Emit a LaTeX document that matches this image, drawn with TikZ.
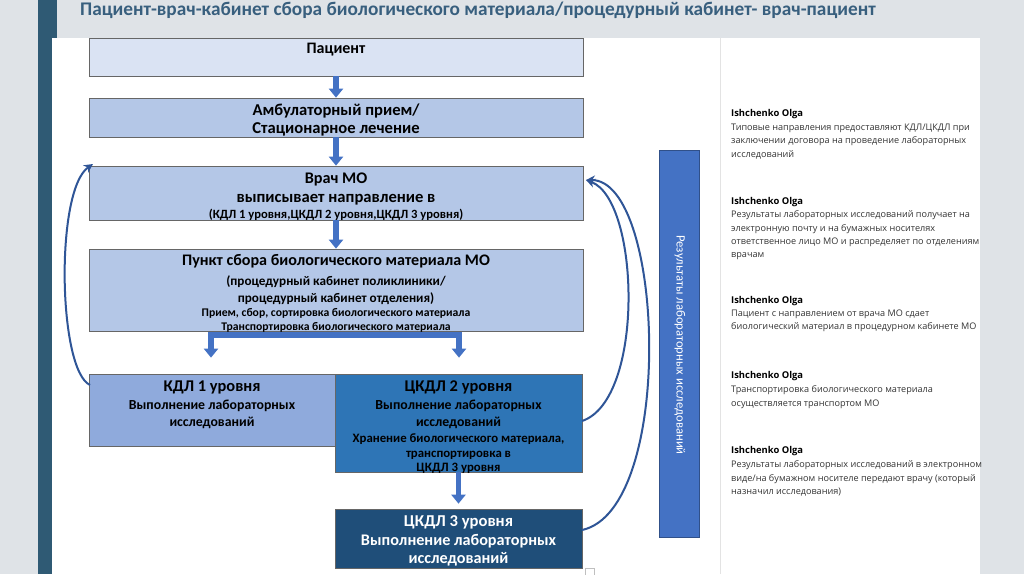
\documentclass[tikz,border=0pt]{standalone}
\usepackage{fontspec}
\setmainfont{Carlito}
\newfontfamily\cmtfont{Open Sans}
\usetikzlibrary{arrows.meta}
\definecolor{bggray}{HTML}{DFE3E7}
\definecolor{stripe}{HTML}{2F5A74}
\definecolor{titlec}{HTML}{385F7E}
\definecolor{cpat}{HTML}{DAE3F3}
\definecolor{cmid}{HTML}{B4C7E7}
\definecolor{ckdl}{HTML}{8FAADC}
\definecolor{cck2}{HTML}{2E75B6}
\definecolor{cck3}{HTML}{1F4E79}
\definecolor{cres}{HTML}{4472C4}
\definecolor{curvec}{HTML}{2F5597}
\definecolor{divider}{HTML}{E3E3E3}
\tikzset{
  box/.style={draw=gray!80!black, line width=0.7pt, inner sep=0pt, rectangle},
  ln/.style={inner sep=0pt, anchor=mid, yshift=-3pt, font=\bfseries\fontsize{#1}{#1}\selectfont},
  blockarrow/.style={draw=cres, line width=5.5pt, -{Triangle[width=14pt,length=9pt]}},
  barline/.style={draw=cres, line width=5.5pt},
  curvearrow/.style={draw=curvec, line width=2pt, -{Stealth[length=9pt,width=9pt]}},
  cname/.style={inner sep=0pt, anchor=north west, font=\cmtfont\bfseries\fontsize{9.4}{11}\selectfont},
  cbody/.style={inner sep=0pt, anchor=north west, align=left, font=\cmtfont\fontsize{9.1}{13.4}\selectfont, text=black!80}
}
\begin{document}
\begin{tikzpicture}[x=1pt,y=-1pt]
\useasboundingbox (0,0) rectangle (1024,574);
\fill[bggray] (0,0) rectangle (1024,574);
\fill[stripe] (38,0) rectangle (57,38);
\fill[stripe] (38,38) rectangle (52,574);
\fill[white] (52,38) rectangle (980,574);
\draw[divider, line width=1pt] (720,38) -- (720,574);
\draw[gray!50, line width=0.6pt] (585,568) rectangle (594,576);

% title
\node[anchor=base west, inner sep=0pt, text=titlec, font=\bfseries\fontsize{19.3}{22}\selectfont] (title) at (80,15) {Пациент-врач-кабинет сбора биологического материала/процедурный кабинет- врач-пациент};

% boxes
\node[box, fill=cpat, minimum width=494pt, minimum height=38pt] (pat) at (336,57) {};
\node[ln=16] (patt) at (336,48) {Пациент};

\node[box, fill=cmid, minimum width=494pt, minimum height=39pt] (amb) at (336,117.5) {};
\node[ln=16.6] (amb1) at (336,110) {Амбулаторный прием/};
\node[ln=16.6] (amb2) at (336,128) {Стационарное лечение};

\node[box, fill=cmid, minimum width=494pt, minimum height=54pt] (vrach) at (336,193) {};
\node[ln=16.2] (vr1) at (336,178) {Врач МО};
\node[ln=16.6] (vr2) at (336,197) {выписывает направление в};
\node[ln=12.6] (vr3) at (336,213.5) {(КДЛ 1 уровня,ЦКДЛ 2 уровня,ЦКДЛ 3 уровня)};

\node[box, fill=cmid, minimum width=494pt, minimum height=82pt] (punkt) at (336,290) {};
\node[ln=16.1] (pu1) at (336,260) {Пункт сбора биологического материала МО};
\node[ln=13.2] (pu2) at (336,280) {(процедурный кабинет поликлиники/};
\node[ln=13.2] (pu3) at (336,297) {процедурный кабинет отделения)};
\node[ln=11.7] (pu4) at (336,311) {Прием, сбор, сортировка биологического материала};
\node[ln=11.7] (pu5) at (336,325) {Транспортировка биологического материала};

\node[box, fill=ckdl, minimum width=246pt, minimum height=72pt] (kdl1) at (212,410) {};
\node[ln=16.4] (k1a) at (212,386) {КДЛ 1 уровня};
\node[ln=13.8] (k1b) at (212,404) {Выполнение лабораторных};
\node[ln=13.8] (k1c) at (212,421) {исследований};

\node[box, fill=cck2, minimum width=247pt, minimum height=98pt] (ck2) at (458.5,423) {};
\node[ln=16.4] (c2a) at (458.5,386) {ЦКДЛ 2 уровня};
\node[ln=13.8] (c2b) at (458.5,404) {Выполнение лабораторных};
\node[ln=13.8] (c2c) at (458.5,421) {исследований};
\node[ln=12.8] (c2d) at (458.5,437.5) {Хранение биологического материала,};
\node[ln=12.8] (c2e) at (458.5,452.5) {транспортировка в};
\node[ln=12.8] (c2f) at (458.5,466.5) {ЦКДЛ 3 уровня};

\node[box, fill=cck3, minimum width=247pt, minimum height=59pt] (ck3) at (458.5,538.5) {};
\node[ln=16.6, text=white] (c3a) at (458.5,521) {ЦКДЛ 3 уровня};
\node[ln=16.2, text=white] (c3b) at (458.5,540) {Выполнение лабораторных};
\node[ln=16.2, text=white] (c3c) at (458.5,558) {исследований};

% results bar
\node[box, draw=cres!70!black, fill=cres, minimum width=40pt, minimum height=387pt] (res) at (679,343.5) {};
\node[inner sep=0pt, rotate=-90, text=white, font=\fontsize{12.7}{14}\selectfont] (rest) at (680,345) {Результаты лабораторных исследований};

% block arrows
\draw[blockarrow] (pat.south) -- (amb.north);
\draw[blockarrow] (amb.south) -- (vrach.north);
\draw[blockarrow] (vrach.south) -- (punkt.north);
\coordinate (sL) at (211,335);
\coordinate (sR) at (459,335);
\coordinate (sLe) at (208,335);
\coordinate (sRe) at (462,335);
\draw[barline] (sLe) -- (sRe);
\draw[blockarrow, shorten >=16pt] (sL) -- (sL |- kdl1.north);
\draw[blockarrow, shorten >=16pt] (sR) -- (sR |- ck2.north);
\draw[blockarrow, shorten >=5pt] (ck2.south) -- (ck3.north);

% curved arrows
\coordinate (kdlL) at (90,385);
\coordinate (vrL) at (93,164);
\coordinate (ck2R) at (582,421);
\coordinate (ck3R) at (582,530);
\coordinate (vrR) at (586,180);
\draw[curvearrow] (kdlL) .. controls (58,370) and (55,190) .. (vrL);
\draw[curvearrow] (ck2R) .. controls (645,400) and (640,200) .. (vrR);
\draw[curvearrow] (ck3R) .. controls (675,510) and (665,180) .. (vrR);

% comments
\node[cname] (n1) at (731,109.5) {Ishchenko Olga};
\node[cbody] (b1) at (731,123.5) {Типовые направления предоставляют КДЛ/ЦКДЛ при\\заключении договора на проведение лабораторных\\исследований};
\node[cname] (n2) at (731,197.5) {Ishchenko Olga};
\node[cbody] (b2) at (731,210.5) {Результаты лабораторных исследований получает на\\электронную почту и на бумажных носителях\\ответственное лицо МО и распределяет по отделениям\\врачам};
\node[cname] (n3) at (731,296.5) {Ishchenko Olga};
\node[cbody] (b3) at (731,309.5) {Пациент с направлением от врача МО сдает\\биологический материал в процедурном кабинете МО};
\node[cname] (n4) at (731,371.5) {Ishchenko Olga};
\node[cbody] (b4) at (731,385.5) {Транспортировка биологического материала\\осуществляется транспортом МО};
\node[cname] (n5) at (731,446.5) {Ishchenko Olga};
\node[cbody] (b5) at (731,460.5) {Результаты лабораторных исследований в электронном\\виде/на бумажном носителе передают врачу (который\\назначил исследования)};
\end{tikzpicture}
\end{document}
